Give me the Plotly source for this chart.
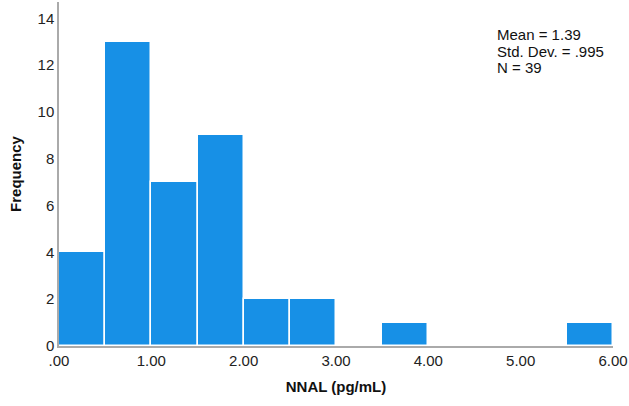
import plotly.graph_objects as go

bin_starts = [0.0, 0.5, 1.0, 1.5, 2.0, 2.5, 3.0, 3.5, 4.0, 4.5, 5.0, 5.5]
counts = [4, 13, 7, 9, 2, 2, 0, 1, 0, 0, 0, 1]
bin_width = 0.5
x_tickvals = [0, 1, 2, 3, 4, 5, 6]
x_ticktext = [".00", "1.00", "2.00", "3.00", "4.00", "5.00", "6.00"]
y_tickvals = [0, 2, 4, 6, 8, 10, 12, 14]
stats_lines = ["Mean = 1.39", "Std. Dev. = .995", "N = 39"]

fig = go.Figure()
fig.add_trace(go.Bar(
    x=[s + bin_width / 2 for s in bin_starts],
    y=counts,
    width=bin_width,
    marker=dict(color="#1790E6", line=dict(color="white", width=1.5)),
    hoverinfo="skip",
))

ML, MR, MT, MB = 59, 16, 2, 60
font = "Liberation Sans, Arial, sans-serif"
fig.update_layout(
    width=629, height=406,
    margin=dict(l=ML, r=MR, t=MT, b=MB),
    plot_bgcolor="white", paper_bgcolor="white",
    showlegend=False,
    bargap=0,
    font=dict(family=font, size=15, color="#222"),
    xaxis=dict(
        range=[0, 6],
        tickvals=x_tickvals, ticktext=x_ticktext,
        showgrid=False, zeroline=False,
        showline=True, linecolor="#aaaaaa", linewidth=1.5,
        ticks="", tickfont=dict(size=15, color="#222"),
        automargin=False,
        title=dict(text="<b>NNAL (pg/mL)</b>", font=dict(size=15, color="#111"), standoff=14),
    ),
    yaxis=dict(
        range=[0, 14.7],
        tickvals=y_tickvals,
        showgrid=False, zeroline=False,
        showline=True, linecolor="#aaaaaa", linewidth=1.5,
        ticks="", tickfont=dict(size=15, color="#222"),
        automargin=False,
        title=dict(text="<b>Frequency</b>", font=dict(size=15, color="#111"), standoff=12),
    ),
)
plot_w = 629 - ML - MR
plot_h = 406 - MT - MB
for i, line in enumerate(stats_lines):
    px, py = 495, 35 + 16 * i
    fig.add_annotation(
        x=(px - ML) / plot_w, y=1 - (py - MT) / plot_h,
        xref="x domain", yref="y domain",
        text=line, showarrow=False,
        xanchor="left", yanchor="middle", align="left",
        font=dict(family=font, size=15, color="#111"),
    )

fig.write_html(
    "out.html",
    config={"displayModeBar": False},
    post_script="document.body.style.margin='0';",
)
